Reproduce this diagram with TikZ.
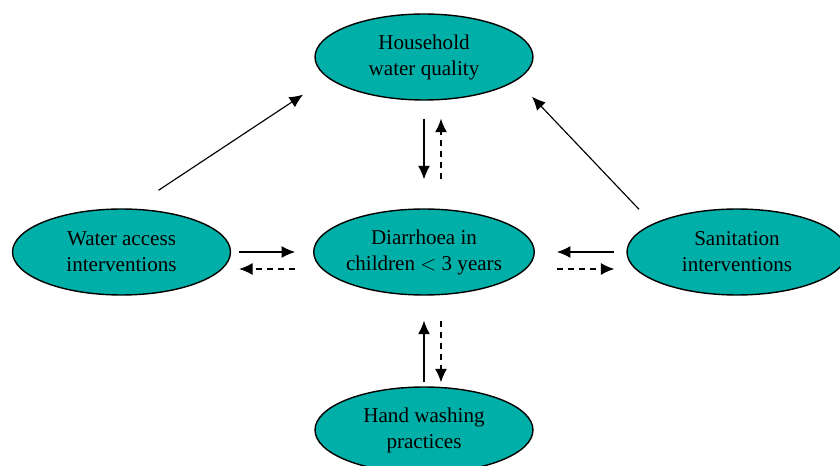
\documentclass[tikz,border=0pt]{standalone}
\usepackage{fontspec}
\setmainfont{Liberation Serif}
\usetikzlibrary{arrows.meta}
\usetikzlibrary{calc}
\usetikzlibrary{shapes.geometric}
\definecolor{tealfill}{RGB}{0,176,168}

\begin{document}
\begin{tikzpicture}[x=0.02cm,y=-0.02cm,
  factor node/.style={ellipse,draw,line width=0.8pt,fill=tealfill,minimum width=4.36cm,minimum height=1.72cm,inner sep=0pt,align=center,font=\fontsize{12pt}{14.8pt}\selectfont},
  link/.style={line width=0.65pt,-{Latex[length=2.7mm,width=2.4mm]}},
  back link/.style={link,dash pattern=on 1.3mm off 0.9mm}]
  \useasboundingbox (0,0) rectangle (840,466);
  \node[factor node] (hh) at (424,57) {Household\\water quality};
  \node[factor node] (wa) at (121.5,252) {Water access\\interventions};
  \node[factor node] (dia) at (424,252) {Diarrhoea in\\children $<$ 3 years};
  \node[factor node,minimum width=4.4cm] (san) at (737,252) {Sanitation\\interventions};
  \node[factor node] (hw) at (424,430) {Hand washing\\practices};

  % towards household water quality
  \draw[link] ($(wa.north)+(37,-18)$) -- ($(hh.south)+(-121,-6)$);
  \draw[link] ($(san.north)+(-98,1)$) -- ($(hh.south)+(108,-4)$);

  \draw[link] ($(hh.south)+(0,18)$) -- ($(dia.north)+(0,-29)$);
  \draw[back link] ($(dia.north)+(17,-29)$) -- ($(hh.south)+(17,18)$);

  \draw[link] ($(wa.east)+(8,0)$) -- ($(dia.west)+(-18,0)$);
  \draw[back link] ($(dia.west)+(-18,17)$) -- ($(wa.east)+(8,17)$);

  \draw[link] ($(san.west)+(-12,0)$) -- ($(dia.east)+(22,0)$);
  \draw[back link] ($(dia.east)+(22,17)$) -- ($(san.west)+(-12,17)$);

  \draw[link] ($(hw.north)+(0,-4)$) -- ($(dia.south)+(0,25)$);
  \draw[back link] ($(dia.south)+(17,25)$) -- ($(hw.north)+(17,-4)$);
\end{tikzpicture}
\end{document}
